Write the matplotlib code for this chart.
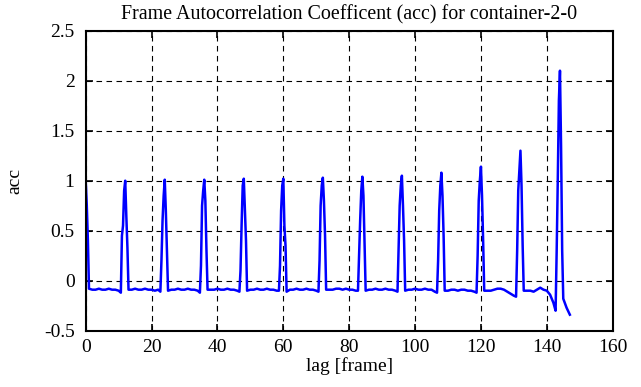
#!/usr/bin/env python

import matplotlib
matplotlib.use('Agg')
import matplotlib.pyplot as pyplot

# acc read at integer lags 0..147 (peaks every 12 frames)
acc_int = [
  1.00, -0.08, -0.09, -0.09, -0.08, -0.09, -0.09, -0.08, -0.09, -0.09,
  -0.10, 0.45, 1.00, -0.09, -0.09, -0.08, -0.09, -0.09, -0.08, -0.09,
  -0.09, -0.10, -0.09, 0.20, 1.01, -0.10, -0.09, -0.09, -0.08, -0.09,
  -0.09, -0.08, -0.09, -0.09, -0.10, 0.15, 1.01, -0.09, -0.09, -0.09,
  -0.08, -0.09, -0.09, -0.08, -0.09, -0.09, -0.10, 0.10, 1.02, -0.10,
  -0.09, -0.09, -0.08, -0.09, -0.09, -0.08, -0.09, -0.09, -0.10, 0.15,
  1.02, -0.11, -0.09, -0.09, -0.08, -0.09, -0.09, -0.08, -0.09, -0.09,
  -0.10, 0.20, 1.03, -0.09, -0.09, -0.09, -0.08, -0.08, -0.09, -0.08,
  -0.09, -0.09, -0.10, 0.25, 1.04, -0.10, -0.09, -0.09, -0.08, -0.09,
  -0.09, -0.08, -0.09, -0.09, -0.10, 0.30, 1.05, -0.10, -0.09, -0.09,
  -0.08, -0.09, -0.09, -0.08, -0.09, -0.09, -0.11, 0.20, 1.08, -0.10,
  -0.10, -0.09, -0.09, -0.10, -0.09, -0.09, -0.10, -0.10, -0.11, 0.25,
  1.14, -0.10, -0.10, -0.10, -0.09, -0.08, -0.08, -0.09, -0.11, -0.13,
  -0.15, 0.30, 1.30, -0.10, -0.10, -0.10, -0.11, -0.09, -0.07, -0.09,
  -0.10, -0.14, -0.22, 0.30, 2.10, -0.18, -0.27, -0.34,
]

# extra points read between integer lags around each peak
peak_lags = [0, 12, 24, 36, 48, 60, 72, 84, 96, 108, 120, 132, 144]
sub_offsets = [-1.33, -0.67, -0.33, 0.33, 0.67]
sub_values = [
  [None, None, None, 0.75, 0.40],
  [-0.12, 0.55, 0.90, 0.65, 0.33],
  [-0.11, 0.60, 0.85, 0.70, 0.30],
  [-0.12, 0.75, 0.90, 0.80, 0.30],
  [-0.11, 0.55, 0.95, 0.72, 0.40],
  [-0.10, 0.70, 0.95, 0.55, 0.35],
  [-0.11, 0.75, 0.95, 0.80, 0.45],
  [-0.10, 0.60, 0.90, 0.85, 0.35],
  [-0.11, 0.75, 0.95, 0.75, 0.40],
  [-0.12, 0.70, 0.95, 0.85, 0.45],
  [-0.12, 0.80, 1.00, 0.85, 0.40],
  [-0.16, 0.90, 1.10, 0.95, 0.35],
  [-0.30, 1.00, 1.80, 1.35, 0.30],
]

x_ticks = [0, 20, 40, 60, 80, 100, 120, 140, 160]
y_ticks = [-0.5, 0, 0.5, 1, 1.5, 2, 2.5]
y_tick_labels = ['-0.5', '0', '0.5', '1', '1.5', '2', '2.5']

points = {float(i): v for i, v in enumerate(acc_int)}
for p, vals in zip(peak_lags, sub_values):
  for off, v in zip(sub_offsets, vals):
    if v is not None:
      points[p + off] = v
lags = sorted(points)
acc = [points[k] for k in lags]

pyplot.rcParams['font.family'] = ['Liberation Serif', 'DejaVu Serif']
pyplot.rcParams['font.size'] = 14

fig = pyplot.figure(figsize=(6.41, 3.87), dpi=100)
ax = fig.add_axes([0.1337, 0.1455, 0.8221, 0.7752])

ax.plot(lags, acc, color='#0000ff', linewidth=1.8)

ax.set_xlim(0, 160)
ax.set_ylim(-0.5, 2.5)
ax.set_xticks(x_ticks)
ax.set_yticks(y_ticks)
ax.set_yticklabels(y_tick_labels)
ax.grid(True, color='black', linestyle=(0, (5, 4)), linewidth=0.8)
ax.tick_params(direction='in', length=5, width=1.2, top=True, right=True, pad=6)
ax.tick_params(axis='y', pad=8)
for s in ax.spines.values():
  s.set_linewidth(1.5)

ax.set_title('Frame Autocorrelation Coefficent (acc) for container-2-0',
             fontsize=14.4, pad=8)
ax.set_xlabel('lag [frame]', labelpad=1)
ax.set_ylabel('acc', labelpad=15)

pyplot.savefig('out.png')
